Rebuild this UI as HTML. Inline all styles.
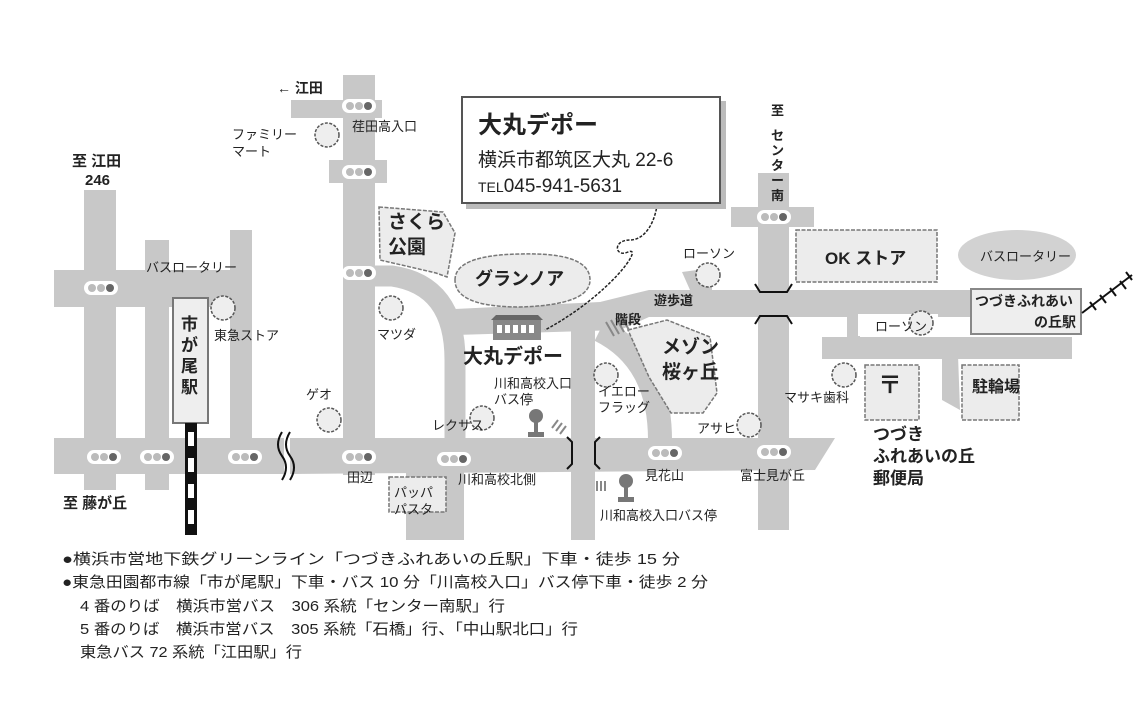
<!DOCTYPE html>
<html><head><meta charset="utf-8"><style>
html,body{margin:0;padding:0;background:#fff}
svg{display:block}
text{font-family:"Liberation Sans","Noto Sans CJK JP",sans-serif;fill:#222}
.b{font-weight:bold}
</style></head><body>
<svg width="1134" height="709" viewBox="0 0 1134 709" xmlns="http://www.w3.org/2000/svg">
<defs>
<g id="tl"><rect x="-17" y="-7" width="34" height="14" rx="7" fill="#fff"/><circle cx="-9" cy="0" r="4" fill="#bbb"/><circle cx="0" cy="0" r="4" fill="#bbb"/><circle cx="9" cy="0" r="4" fill="#666"/></g>
<g id="tr"><circle r="12" fill="#eee" stroke="#555" stroke-width="1.5" stroke-dasharray="3 1.5"/></g>
</defs>
<g fill="#c8c8c8">
<rect x="84" y="190" width="32" height="300"/>
<rect x="145" y="240" width="24" height="250"/>
<rect x="230" y="230" width="22" height="215"/>
<rect x="54" y="270" width="198" height="37"/>
<rect x="54" y="438" width="230" height="36"/>
<polygon points="290,438 835,438 815,470 290,474"/>
<rect x="343" y="75" width="32" height="400"/>
<rect x="291" y="100" width="91" height="18"/>
<rect x="329" y="160" width="58" height="23"/>
<path d="M360 276 L392 276 Q455 285 455 360 L455 470" fill="none" stroke="#c8c8c8" stroke-width="21"/>
<rect x="406" y="470" width="58" height="70"/>
<polygon points="455,309 600,302 649,290 1000,290 1000,317 649,317 620,330 455,335"/>
<polygon points="682,272 712,268 712,290 690,290"/>
<rect x="571" y="320" width="24" height="220"/>
<path d="M600 330 Q660 360 660 440" fill="none" stroke="#c8c8c8" stroke-width="24"/>
<rect x="758" y="173" width="31" height="357"/>
<rect x="731" y="207" width="83" height="20"/>
<rect x="822" y="337" width="250" height="22"/>
<rect x="847" y="315" width="13" height="25"/>
<rect x="1070" y="290" width="10" height="45"/>
<polygon points="942,355 958,355 960,410 942,400"/>
</g>
<rect x="173" y="298" width="35" height="125" fill="#eee" stroke="#777" stroke-width="2"/>
<text class="b" font-size="17"><tspan x="181" y="330">市</tspan><tspan x="181" y="351">が</tspan><tspan x="181" y="372">尾</tspan><tspan x="181" y="393">駅</tspan></text>
<rect x="185" y="423" width="12" height="112" fill="#111"/>
<g fill="#fff"><rect x="188" y="432" width="6" height="14"/><rect x="188" y="458" width="6" height="14"/><rect x="188" y="484" width="6" height="14"/><rect x="188" y="510" width="6" height="14"/></g>
<path d="M282 432 Q274 445 282 456 Q290 467 282 480 M290 432 Q282 445 290 456 Q298 467 290 480" fill="none" stroke="#111" stroke-width="2"/>
<g fill="#ececec" stroke="#777" stroke-width="1.5" stroke-dasharray="4 1.5">
<polygon points="379,207 443,212 455,233 447,277 436,273 380,260"/>
<path d="M455 280 Q455 255 520 254 Q590 252 590 280 Q590 305 520 307 Q455 307 455 280Z"/>
<polygon points="628,330 667,320 710,337 717,393 703,413 671,413 649,377"/>
<rect x="389" y="477" width="57" height="35"/>
<rect x="796" y="230" width="141" height="52"/>
<rect x="865" y="365" width="54" height="55"/>
<rect x="962" y="365" width="57" height="55"/>
</g>
<rect x="858" y="314" width="80" height="22" fill="#fff"/>
<ellipse cx="1017" cy="255" rx="59" ry="25" fill="#d2d2d2"/>
<rect x="971" y="289" width="110" height="45" fill="#eee" stroke="#888" stroke-width="2"/>
<path d="M1082 313 L1132 275" stroke="#111" stroke-width="2"/>
<path d="M1090 302 l6 8 M1100 295 l6 8 M1110 288 l6 8 M1120 281 l6 8 M1126 272 l6 8" stroke="#111" stroke-width="2"/>
<path d="M755 284 l5 8 h27 l5 -8 M755 324 l5 -8 h27 l5 8" fill="none" stroke="#111" stroke-width="2"/>
<path d="M567 437 l5 5 v22 l-5 5 M600 437 l-5 5 v22 l5 5" fill="none" stroke="#111" stroke-width="2"/>
<g stroke="#888" stroke-width="2"><path d="M606 322 l8 14 M611 320 l8 14 M616 318 l8 14 M621 316 l8 14"/><path d="M552 428 l6 -8 M556 431 l6 -8 M560 434 l6 -8"/><path d="M597 481 v10 M601 481 v10 M605 481 v10"/></g>
<use href="#tl" x="359" y="106"/><use href="#tl" x="359" y="172"/><use href="#tl" x="359" y="273"/>
<use href="#tl" x="101" y="288"/><use href="#tl" x="104" y="457"/><use href="#tl" x="157" y="457"/>
<use href="#tl" x="245" y="457"/><use href="#tl" x="359" y="457"/><use href="#tl" x="454" y="459"/>
<use href="#tl" x="774" y="217"/><use href="#tl" x="665" y="453"/><use href="#tl" x="774" y="452"/>
<use href="#tr" x="327" y="135"/><use href="#tr" x="223" y="308"/><use href="#tr" x="391" y="308"/>
<use href="#tr" x="329" y="420"/><use href="#tr" x="482" y="418"/><use href="#tr" x="708" y="275"/>
<use href="#tr" x="606" y="375"/><use href="#tr" x="749" y="425"/><use href="#tr" x="844" y="375"/>
<use href="#tr" x="921" y="323"/>
<rect x="493" y="320" width="48" height="20" fill="#888"/><polygon points="491,320 543,320 538,315 496,315" fill="#666"/>
<g fill="#fff"><rect x="497" y="325" width="5" height="8"/><rect x="505" y="325" width="5" height="8"/><rect x="513" y="325" width="5" height="8"/><rect x="521" y="325" width="5" height="8"/><rect x="529" y="325" width="5" height="8"/></g>
<g fill="#777"><circle cx="536" cy="416" r="7"/><rect x="534" y="420" width="4" height="12"/><rect x="528" y="432" width="16" height="5"/>
<circle cx="626" cy="481" r="7"/><rect x="624" y="485" width="4" height="12"/><rect x="618" y="497" width="16" height="5"/></g>
<path d="M658 195 C657 222 645 240 630 240 C612 240 615 258 628 252 C645 245 610 295 545 330" fill="none" stroke="#222" stroke-width="1.5" stroke-dasharray="3 1.5"/>
<rect x="466" y="101" width="260" height="108" fill="#bbb"/>
<rect x="462" y="97" width="258" height="106" fill="#fff" stroke="#555" stroke-width="2"/>
<text class="b" x="478" y="133" font-size="24">大丸デポー</text>
<text x="478" y="166" font-size="19" fill="#333">横浜市都筑区大丸 22-6</text>
<text x="478" y="192" font-size="19" fill="#333"><tspan font-size="14">TEL</tspan>045-941-5631</text>
<g font-size="13">
<text class="b" x="277" y="93" font-size="14">← 江田</text>
<text x="352" y="131">荏田高入口</text>
<text x="232" y="139">ファミリー</text><text x="232" y="156">マート</text>
<text class="b" x="72" y="166" font-size="15">至 江田</text><text class="b" x="85" y="185" font-size="15">246</text>
<text class="b" x="388" y="228" font-size="19">さくら</text><text class="b" x="388" y="253" font-size="19">公園</text>
<text x="146" y="272">バスロータリー</text>
<text x="214" y="340">東急ストア</text>
<text x="377" y="339">マツダ</text>
<text class="b" x="475" y="285" font-size="18">グランノア</text>
<text class="b" x="463" y="363" font-size="20">大丸デポー</text>
<text x="494" y="388">川和高校入口</text><text x="494" y="404">バス停</text>
<text x="306" y="399">ゲオ</text>
<text x="432" y="430">レクサス</text>
<text x="347" y="482">田辺</text>
<text x="458" y="484">川和高校北側</text>
<text x="394" y="497">パッパ</text><text x="394" y="514">パスタ</text>
<text class="b" x="63" y="508" font-size="15">至 藤が丘</text>
<text x="683" y="258">ローソン</text>
<text class="b" x="654" y="305">遊歩道</text>
<text class="b" x="615" y="324">階段</text>
<text class="b" x="662" y="353" font-size="19">メゾン</text><text class="b" x="662" y="378" font-size="19">桜ヶ丘</text>
<text x="598" y="396">イエロー</text><text x="598" y="412">フラッグ</text>
<text x="697" y="433">アサヒ</text>
<text x="784" y="402">マサキ歯科</text>
<text x="645" y="480">見花山</text>
<text x="740" y="480">富士見が丘</text>
<text x="600" y="520">川和高校入口バス停</text>
<text class="b" x="771" y="115">至</text>
<text class="b" x="771" y="140">セ</text><text class="b" x="771" y="155">ン</text><text class="b" x="771" y="170">タ</text><text class="b" x="771" y="185">ー</text><text class="b" x="771" y="200">南</text>
<text class="b" x="825" y="264" font-size="17">OK ストア</text>
<text x="980" y="261">バスロータリー</text>
<text class="b" x="975" y="306" font-size="14">つづきふれあい</text><text class="b" x="1034" y="327" font-size="14">の丘駅</text>
<text x="875" y="331">ローソン</text>
<text class="b" x="878" y="393" font-size="24">〒</text>
<text class="b" x="972" y="392" font-size="16">駐輪場</text>
<text class="b" x="873" y="440" font-size="17">つづき</text><text class="b" x="873" y="462" font-size="17">ふれあいの丘</text><text class="b" x="873" y="484" font-size="17">郵便局</text>
</g>
<g font-size="15" fill="#333">
<text x="62" y="564" textLength="618" lengthAdjust="spacingAndGlyphs">●横浜市営地下鉄グリーンライン「つづきふれあいの丘駅」下車・徒歩 15 分</text>
<text x="62" y="587" textLength="646" lengthAdjust="spacingAndGlyphs">●東急田園都市線「市が尾駅」下車・バス 10 分「川高校入口」バス停下車・徒歩 2 分</text>
<text x="80" y="611" textLength="425" lengthAdjust="spacingAndGlyphs">4 番のりば　横浜市営バス　306 系統「センター南駅」行</text>
<text x="80" y="634" textLength="498" lengthAdjust="spacingAndGlyphs">5 番のりば　横浜市営バス　305 系統「石橋」行、「中山駅北口」行</text>
<text x="80" y="657" textLength="222" lengthAdjust="spacingAndGlyphs">東急バス 72 系統「江田駅」行</text>
</g>
</svg>
</body></html>
